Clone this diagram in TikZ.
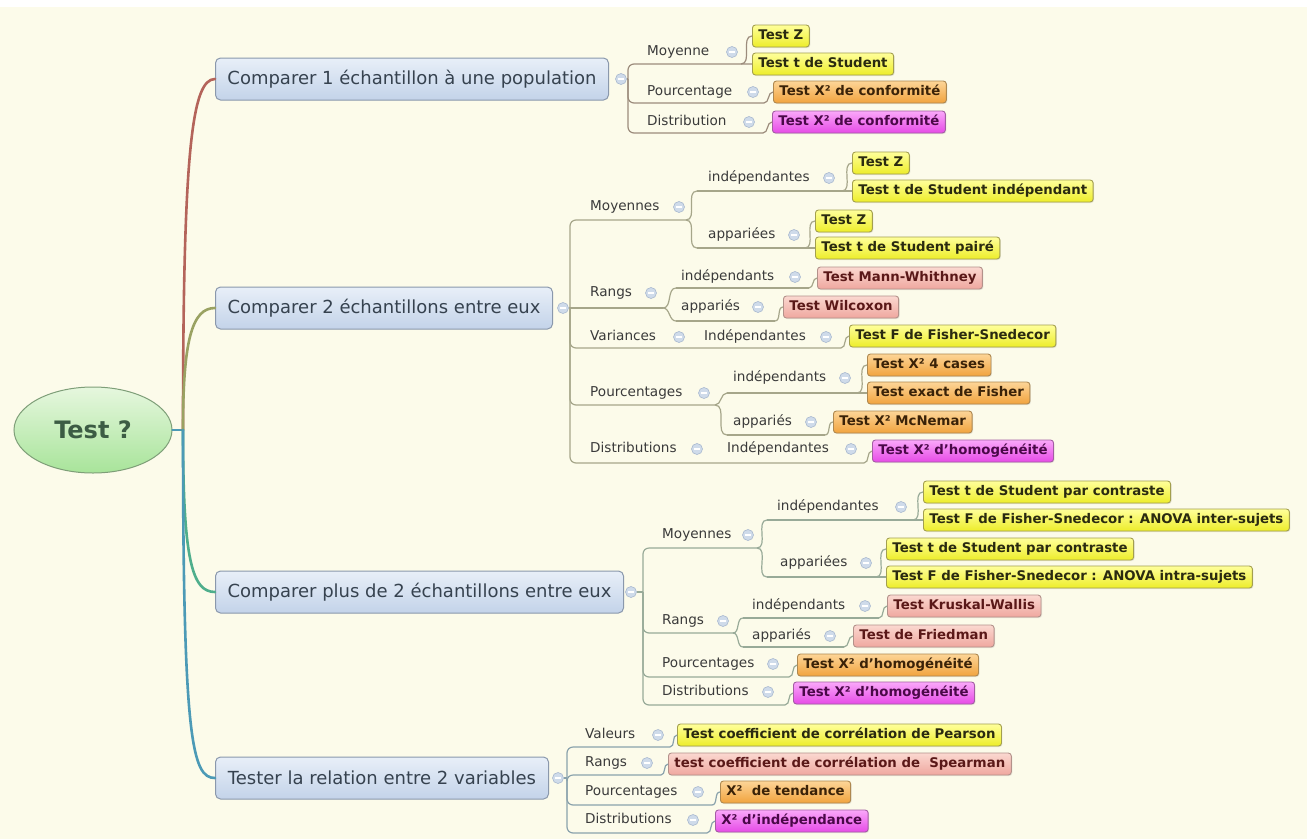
\documentclass[tikz,border=0pt]{standalone}
\usepackage{fontspec}
\setmainfont{DejaVu Sans}
\usetikzlibrary{shapes.geometric,shadows}

\definecolor{bg}{HTML}{FCFBEA}
\definecolor{mainTop}{HTML}{E8EFF8}
\definecolor{mainBot}{HTML}{C3D3E9}
\definecolor{mainDraw}{HTML}{8A98AC}
\definecolor{mainText}{HTML}{36424F}
\definecolor{rootTop}{HTML}{E6F7DE}
\definecolor{rootBot}{HTML}{A8E49A}
\definecolor{rootDraw}{HTML}{7E9E78}
\definecolor{rootText}{HTML}{3C5C44}
\definecolor{yelTop}{HTML}{FFFF9A}
\definecolor{yelBot}{HTML}{EDED2A}
\definecolor{yelDraw}{HTML}{A39F4E}
\definecolor{yelText}{HTML}{2A2A10}
\definecolor{oraTop}{HTML}{FDD597}
\definecolor{oraBot}{HTML}{F1A33E}
\definecolor{oraDraw}{HTML}{AE8850}
\definecolor{oraText}{HTML}{3A2208}
\definecolor{pnkTop}{HTML}{FBD8D0}
\definecolor{pnkBot}{HTML}{EFA79F}
\definecolor{pnkDraw}{HTML}{B3918A}
\definecolor{pnkText}{HTML}{5A1818}
\definecolor{magTop}{HTML}{FAA8FA}
\definecolor{magBot}{HTML}{E64AE6}
\definecolor{magDraw}{HTML}{A35DA3}
\definecolor{magText}{HTML}{4A0848}
\definecolor{lblText}{HTML}{3A3A3A}
\definecolor{togFill}{HTML}{CFDBEA}
\definecolor{togDraw}{HTML}{A9B9CF}
\definecolor{eA}{HTML}{9C8C7C}
\definecolor{eB}{HTML}{A6A68A}
\definecolor{eC}{HTML}{98AA98}
\definecolor{eD}{HTML}{8AA2AC}
\definecolor{cA}{HTML}{B4645A}
\definecolor{cB}{HTML}{9AA262}
\definecolor{cC}{HTML}{4FAE8C}
\definecolor{cD}{HTML}{4C9AB6}

\tikzset{
  bx/.style={rounded corners=3pt, line width=0.9pt, anchor=west, inner xsep=6pt,
    inner ysep=0pt, text height=10pt, text depth=3pt, minimum height=22pt,
    font=\bfseries\fontsize{13.3}{15}\selectfont,
    drop shadow={shadow xshift=1pt, shadow yshift=-1pt, opacity=0.18}},
  yel/.style={bx, top color=yelTop, bottom color=yelBot, draw=yelDraw, text=yelText},
  ora/.style={bx, top color=oraTop, bottom color=oraBot, draw=oraDraw, text=oraText},
  pnk/.style={bx, top color=pnkTop, bottom color=pnkBot, draw=pnkDraw, text=pnkText},
  mag/.style={bx, top color=magTop, bottom color=magBot, draw=magDraw, text=magText},
  lbl/.style={anchor=west, inner sep=0pt, text height=10pt, text depth=3pt,
    font=\fontsize{13.6}{16}\selectfont, text=lblText},
  tog/.style={circle, minimum size=11pt, inner sep=0pt, fill=togFill, draw=togDraw,
    line width=0.6pt,
    path picture={\draw[white,line width=1.1pt]
      ([xshift=-2.6pt]path picture bounding box.center) --
      ([xshift=2.6pt]path picture bounding box.center);}},
  mainbox/.style={rounded corners=5pt, line width=1pt, anchor=west, minimum height=42pt,
    inner xsep=8pt, top color=mainTop, bottom color=mainBot, draw=mainDraw,
    text=mainText, font=\fontsize{18}{21}\selectfont},
  rootnode/.style={ellipse, minimum width=158pt, minimum height=86pt, inner sep=0pt,
    top color=rootTop, bottom color=rootBot, draw=rootDraw, line width=1pt,
    text=rootText, font=\bfseries\fontsize{24}{28}\selectfont},
  trunk/.style={line width=2.6pt, line cap=round},
  edge/.style={line width=1.2pt},
  rc/.style={rounded corners=6pt},
}

\begin{document}
\begin{tikzpicture}[x=1pt,y=-1pt]
\fill[bg] (0,0) rectangle (1307,839);
\fill[white] (0,0) rectangle (1307,7);
\useasboundingbox (0,0) rectangle (1307,839);

% ---------- root and main topics ----------
\node[rootnode] (root) at (93,430) {Test ?};
\node[mainbox, minimum width=393pt] (M1) at (215,79) {Comparer 1 échantillon à une population};
\node[mainbox, minimum width=337pt] (M2) at (215,308) {Comparer 2 échantillons entre eux};
\node[mainbox, minimum width=408pt] (M3) at (215,592) {Comparer plus de 2 échantillons entre eux};
\node[mainbox, minimum width=333pt] (M4) at (215,778) {Tester la relation entre 2 variables};

\coordinate (hub) at (183,430);
\draw[trunk, cD] (root.east) -- (hub);
\draw[trunk, cA] (hub) .. controls (183,150) and (192,79) .. (M1.west);
\draw[trunk, cB] (hub) .. controls (183,340) and (192,308) .. (M2.west);
\draw[trunk, cC] (hub) .. controls (183,560) and (192,592) .. (M3.west);
\draw[trunk, cD] (hub) .. controls (183,740) and (192,778) .. (M4.west);

% ---------- branch 1 ----------
\node[tog] (T1) at (621,79) {};
\node[lbl] (b1m) at (647,52) {Moyenne};     \node[tog] (t1m) at (732,52) {};
\node[yel] (b1mz) at (752,36) {Test Z};
\node[yel] (b1mt) at (752,64) {Test t de Student};
\node[lbl] (b1p) at (647,92) {Pourcentage}; \node[tog] (t1p) at (753,92) {};
\node[ora] (b1po) at (773,92) {Test X² de conformité};
\node[lbl] (b1d) at (647,122) {Distribution}; \node[tog] (t1d) at (749,122) {};
\node[mag] (b1dm) at (772,122) {Test X² de conformité};

\coordinate (s1) at (628,79);
\coordinate (k1m) at (741,64);
\coordinate (k1p) at (764,103);
\coordinate (k1d) at (763,133);
\begin{scope}[edge, eA]
\draw (T1.east) -- (s1);
\draw[rc] (s1) |- (b1mt.west);
\draw (k1m) to[out=0,in=180] (b1mz.west);
\draw[rc] (s1) |- (k1p);
\draw (k1p) to[out=0,in=180] (b1po.west);
\draw[rc] (s1) |- (k1d);
\draw (k1d) to[out=0,in=180] (b1dm.west);
\end{scope}

% ---------- branch 2 ----------
\node[tog] (T2) at (563,308) {};
\node[lbl] (b2m) at (590,207) {Moyennes}; \node[tog] (t2m) at (679,207) {};
\node[lbl] (b2mi) at (708,178) {indépendantes}; \node[tog] (t2mi) at (829,178) {};
\node[yel] (b2miz) at (852,163) {Test Z};
\node[yel] (b2mit) at (852,191) {Test t de Student indépendant};
\node[lbl] (b2ma) at (708,235) {appariées}; \node[tog] (t2ma) at (794,235) {};
\node[yel] (b2maz) at (815,221) {Test Z};
\node[yel] (b2mat) at (815,248) {Test t de Student pairé};
\node[lbl] (b2r) at (590,293) {Rangs}; \node[tog] (t2r) at (651,293) {};
\node[lbl] (b2ri) at (681,277) {indépendants}; \node[tog] (t2ri) at (795,277) {};
\node[pnk] (b2rim) at (817,278) {Test Mann-Whithney};
\node[lbl] (b2ra) at (681,307) {appariés}; \node[tog] (t2ra) at (758,307) {};
\node[pnk] (b2raw) at (783,307) {Test Wilcoxon};
\node[lbl] (b2v) at (590,337) {Variances}; \node[tog] (t2v) at (679,337) {};
\node[lbl] (b2vi) at (704,337) {Indépendantes}; \node[tog] (t2vi) at (826,337) {};
\node[yel] (b2vif) at (849,336) {Test F de Fisher-Snedecor};
\node[lbl] (b2p) at (590,393) {Pourcentages}; \node[tog] (t2p) at (704,393) {};
\node[lbl] (b2pi) at (733,378) {indépendants}; \node[tog] (t2pi) at (845,378) {};
\node[ora] (b2pic) at (867,365) {Test X² 4 cases};
\node[ora] (b2pie) at (867,393) {Test exact de Fisher};
\node[lbl] (b2pa) at (733,422) {appariés}; \node[tog] (t2pa) at (811,422) {};
\node[ora] (b2pam) at (833,422) {Test X² McNemar};
\node[lbl] (b2d) at (590,449) {Distributions}; \node[tog] (t2d) at (697,449) {};
\node[lbl] (b2di) at (727,449) {Indépendantes}; \node[tog] (t2di) at (851,449) {};
\node[mag] (b2dih) at (872,451) {Test X² d'homogénéité};

\coordinate (s2) at (570,308);
\coordinate (k2m) at (686,220);
\coordinate (f2mi) at (697,191);
\coordinate (f2ma) at (697,248);
\coordinate (k2mi) at (842,191);
\coordinate (k2ma) at (805,248);
\coordinate (k2r) at (663,308);
\coordinate (f2ri) at (676,288);
\coordinate (f2ra) at (676,321);
\coordinate (k2ri) at (809,288);
\coordinate (k2ra) at (775,321);
\coordinate (k2v) at (841,348);
\coordinate (k2p) at (715,405);
\coordinate (f2pi) at (727,393);
\coordinate (f2pa) at (727,435);
\coordinate (k2pi) at (857,393);
\coordinate (k2pa) at (825,435);
\coordinate (k2d) at (864,463);
\begin{scope}[edge, eB]
\draw (T2.east) -- (s2);
\draw[rc] (s2) |- (k2m);
\draw (k2m) to[out=0,in=180] (f2mi);
\draw (k2m) to[out=0,in=180] (f2ma);
\draw (f2mi) -- (b2mit.west);
\draw (k2mi) to[out=0,in=180] (b2miz.west);
\draw (f2ma) -- (b2mat.west);
\draw (k2ma) to[out=0,in=180] (b2maz.west);
\draw (s2) -- (k2r);
\draw (k2r) to[out=0,in=180] (f2ri);
\draw (k2r) to[out=0,in=180] (f2ra);
\draw (f2ri) -- (k2ri);
\draw (k2ri) to[out=0,in=180] (b2rim.west);
\draw (f2ra) -- (k2ra);
\draw (k2ra) to[out=0,in=180] (b2raw.west);
\draw[rc] (s2) |- (k2v);
\draw (k2v) to[out=0,in=180] (b2vif.west);
\draw[rc] (s2) |- (k2p);
\draw (k2p) to[out=0,in=180] (f2pi);
\draw (k2p) to[out=0,in=180] (f2pa);
\draw (f2pi) -- (b2pie.west);
\draw (k2pi) to[out=0,in=180] (b2pic.west);
\draw (f2pa) -- (k2pa);
\draw (k2pa) to[out=0,in=180] (b2pam.west);
\draw[rc] (s2) |- (k2d);
\draw (k2d) to[out=0,in=180] (b2dih.west);
\end{scope}

% ---------- branch 3 ----------
\node[tog] (T3) at (631,592) {};
\node[lbl] (b3m) at (662,535) {Moyennes}; \node[tog] (t3m) at (748,535) {};
\node[lbl] (b3mi) at (777,507) {indépendantes}; \node[tog] (t3mi) at (901,507) {};
\node[yel] (b3mic) at (923,492) {Test t de Student par contraste};
\node[yel] (b3mif) at (923,520) {Test F de Fisher-Snedecor : ANOVA inter-sujets};
\node[lbl] (b3ma) at (780,563) {appariées}; \node[tog] (t3ma) at (866,563) {};
\node[yel] (b3mac) at (886,549) {Test t de Student par contraste};
\node[yel] (b3maf) at (886,577) {Test F de Fisher-Snedecor : ANOVA intra-sujets};
\node[lbl] (b3r) at (662,621) {Rangs}; \node[tog] (t3r) at (723,621) {};
\node[lbl] (b3ri) at (752,606) {indépendants}; \node[tog] (t3ri) at (865,606) {};
\node[pnk] (b3rik) at (887,606) {Test Kruskal-Wallis};
\node[lbl] (b3ra) at (752,636) {appariés}; \node[tog] (t3ra) at (830,636) {};
\node[pnk] (b3raf) at (853,636) {Test de Friedman};
\node[lbl] (b3p) at (662,664) {Pourcentages}; \node[tog] (t3p) at (773,664) {};
\node[ora] (b3ph) at (797,665) {Test X² d'homogénéité};
\node[lbl] (b3d) at (662,692) {Distributions}; \node[tog] (t3d) at (768,692) {};
\node[mag] (b3dh) at (793,693) {Test X² d'homogénéité};

\coordinate (s3) at (643,592);
\coordinate (k3m) at (757,548);
\coordinate (f3mi) at (767,520);
\coordinate (f3ma) at (767,577);
\coordinate (k3mi) at (913,520);
\coordinate (k3ma) at (876,577);
\coordinate (k3r) at (733,633);
\coordinate (f3ri) at (743,618);
\coordinate (f3ra) at (743,647);
\coordinate (k3ri) at (879,618);
\coordinate (k3ra) at (844,647);
\coordinate (k3p) at (789,677);
\coordinate (k3d) at (785,705);
\begin{scope}[edge, eC]
\draw (T3.east) -- (s3);
\draw[rc] (s3) |- (k3m);
\draw (k3m) to[out=0,in=180] (f3mi);
\draw (k3m) to[out=0,in=180] (f3ma);
\draw (f3mi) -- (b3mif.west);
\draw (k3mi) to[out=0,in=180] (b3mic.west);
\draw (f3ma) -- (b3maf.west);
\draw (k3ma) to[out=0,in=180] (b3mac.west);
\draw[rc] (s3) |- (k3r);
\draw (k3r) to[out=0,in=180] (f3ri);
\draw (k3r) to[out=0,in=180] (f3ra);
\draw (f3ri) -- (k3ri);
\draw (k3ri) to[out=0,in=180] (b3rik.west);
\draw (f3ra) -- (k3ra);
\draw (k3ra) to[out=0,in=180] (b3raf.west);
\draw[rc] (s3) |- (k3p);
\draw (k3p) to[out=0,in=180] (b3ph.west);
\draw[rc] (s3) |- (k3d);
\draw (k3d) to[out=0,in=180] (b3dh.west);
\end{scope}

% ---------- branch 4 ----------
\node[tog] (T4) at (558,778) {};
\node[lbl] (b4v) at (585,735) {Valeurs}; \node[tog] (t4v) at (658,735) {};
\node[yel] (b4vp) at (677,735) {Test coefficient de corrélation de Pearson};
\node[lbl] (b4r) at (585,763) {Rangs}; \node[tog] (t4r) at (647,763) {};
\node[pnk] (b4rs) at (668,764) {test coefficient de corrélation de\ \ Spearman};
\node[lbl] (b4p) at (585,792) {Pourcentages}; \node[tog] (t4p) at (698,792) {};
\node[ora] (b4pt) at (720,792) {X²\ \ de tendance};
\node[lbl] (b4d) at (585,820) {Distributions}; \node[tog] (t4d) at (693,820) {};
\node[mag] (b4di) at (715,821) {X² d'indépendance};

\coordinate (s4) at (567,778);
\coordinate (k4v) at (670,747);
\coordinate (k4r) at (661,775);
\coordinate (k4p) at (712,805);
\coordinate (k4d) at (707,833);
\begin{scope}[edge, eD]
\draw (T4.east) -- (s4);
\draw[rc] (s4) |- (k4v);
\draw (k4v) to[out=0,in=180] (b4vp.west);
\draw[rc] (s4) |- (k4r);
\draw (k4r) to[out=0,in=180] (b4rs.west);
\draw[rc] (s4) |- (k4p);
\draw (k4p) to[out=0,in=180] (b4pt.west);
\draw[rc] (s4) |- (k4d);
\draw (k4d) to[out=0,in=180] (b4di.west);
\end{scope}
\end{tikzpicture}
\end{document}
